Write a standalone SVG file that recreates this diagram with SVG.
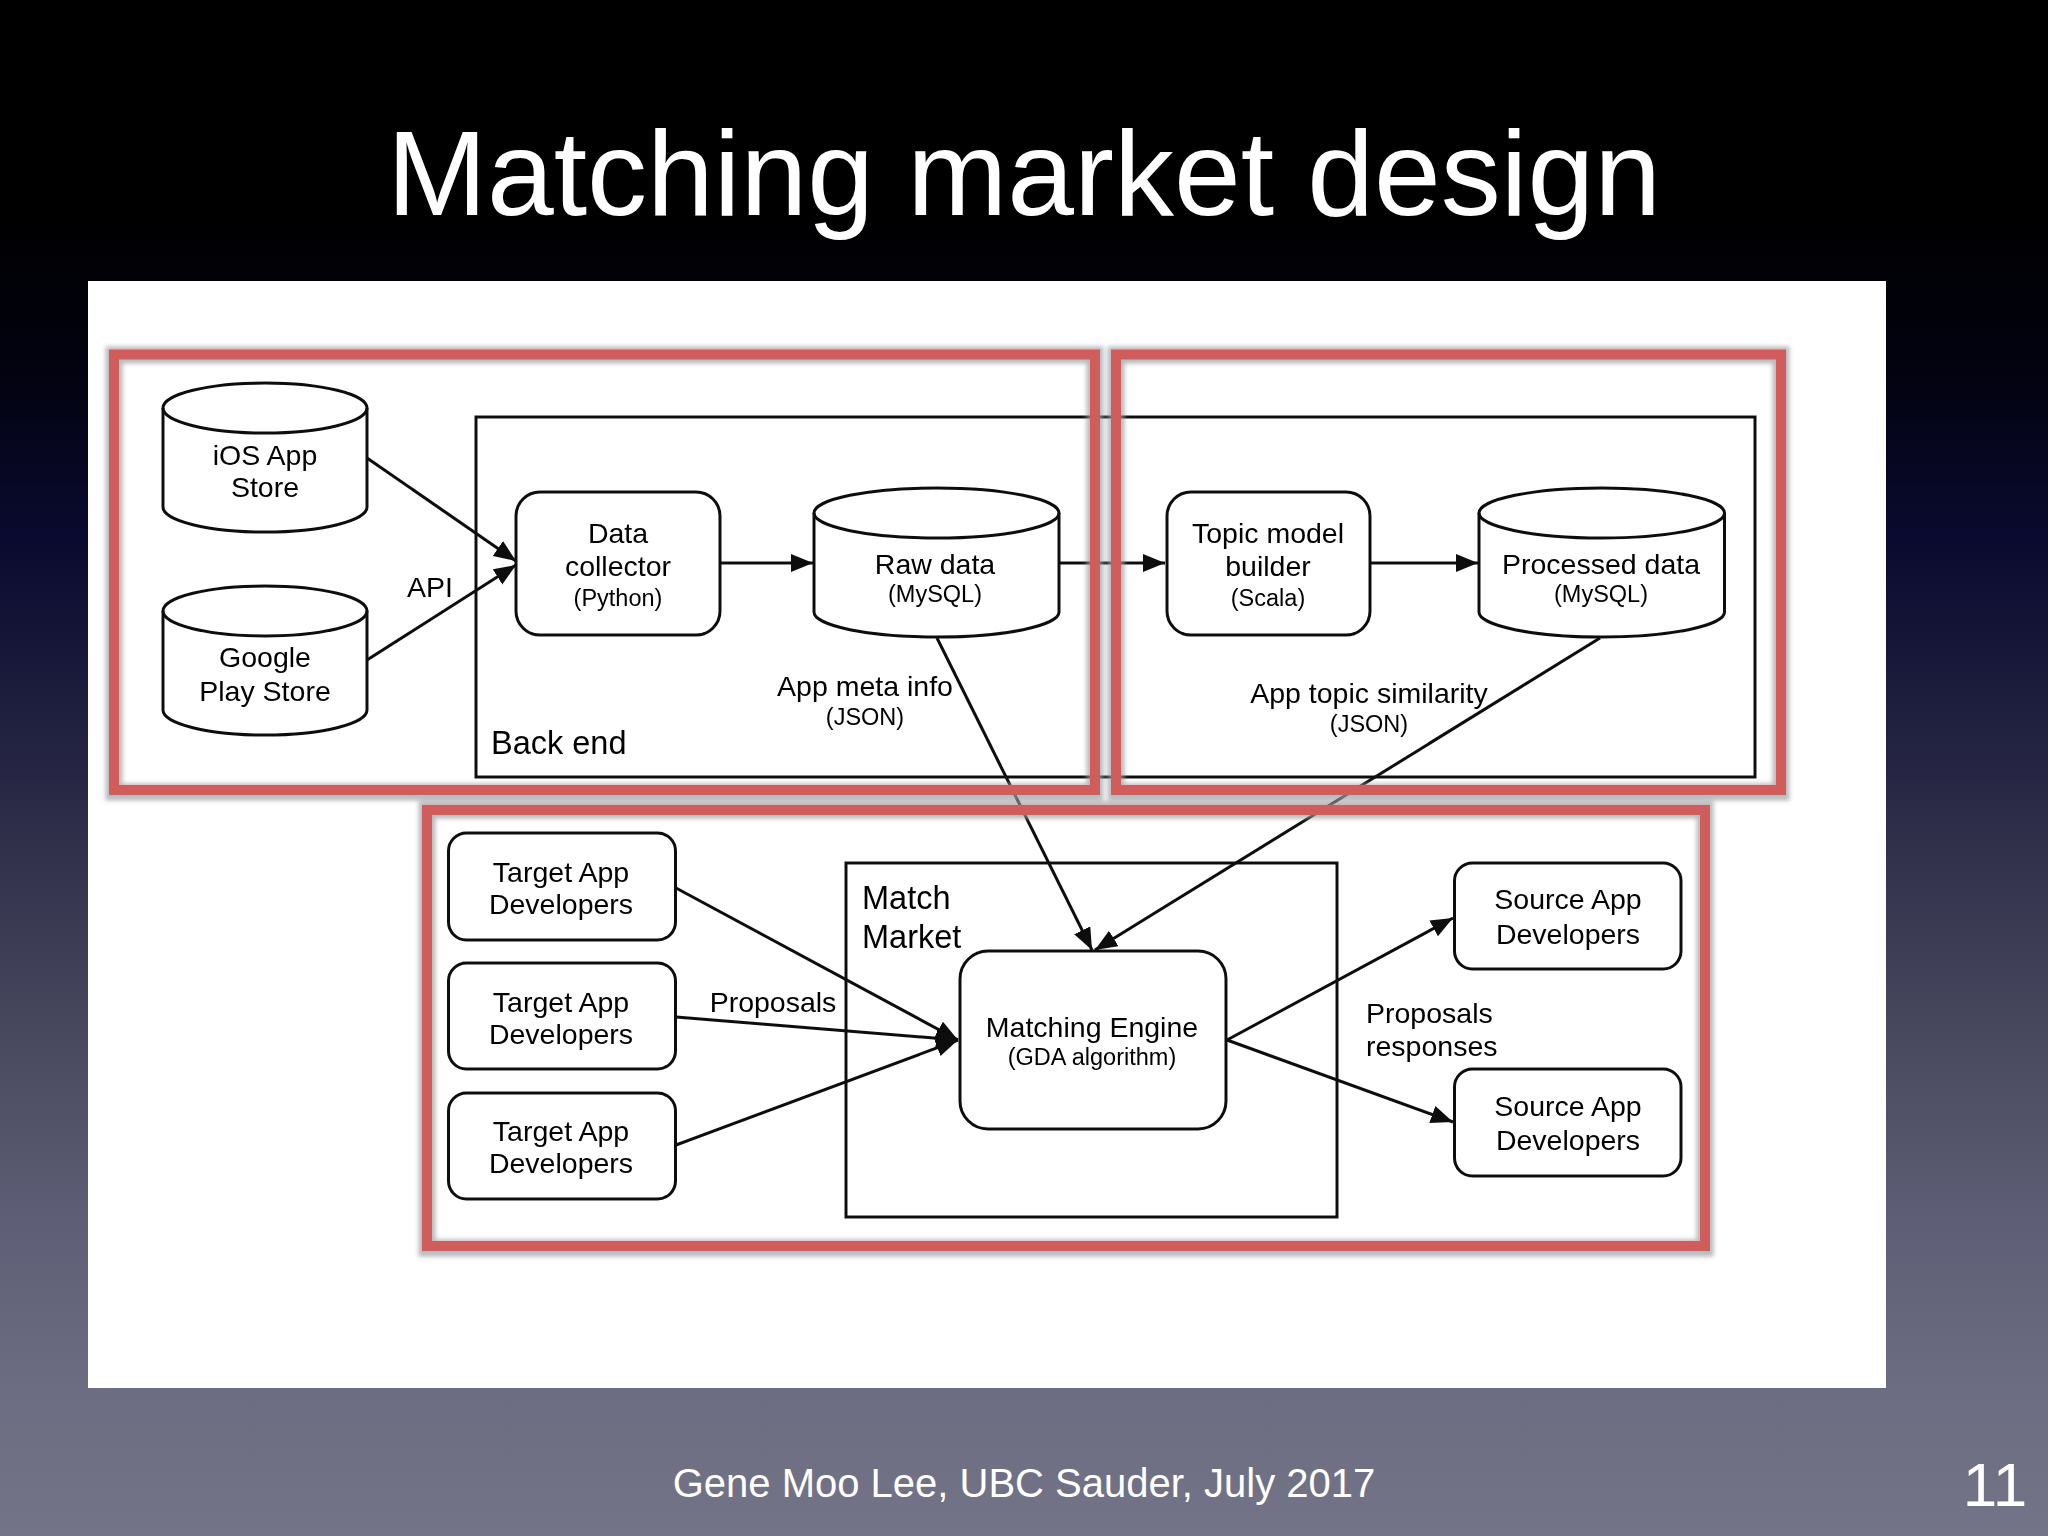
<svg xmlns="http://www.w3.org/2000/svg" width="2048" height="1536" viewBox="0 0 2048 1536">
<style>
.t{font-family:"Liberation Sans",Arial,sans-serif;fill:#000;text-anchor:middle}
.l{font-size:28.500px}.s{font-size:23.500px}.h{font-size:32.500px;text-anchor:start}
.n{fill:#fff;stroke:#111;stroke-width:3}
.f{fill:none;stroke:#111;stroke-width:3}
.c{fill:none;stroke:#111;stroke-width:3;marker-end:url(#a)}
.r{fill:none;stroke:#d15c5c;stroke-width:10}
.sh{fill:none;stroke:#9a9da3;stroke-width:17;opacity:.7}
.w{font-family:"Liberation Sans",Arial,sans-serif;fill:#fff;text-anchor:middle}
</style>
<defs>
<linearGradient id="bg" x1="0" y1="0" x2="0" y2="1">
<stop offset="0" stop-color="#000"/><stop offset=".13" stop-color="#000"/><stop offset=".24" stop-color="#020210"/><stop offset=".35" stop-color="#0a0a30"/><stop offset=".463" stop-color="#1e1e3e"/><stop offset=".574" stop-color="#35354f"/><stop offset=".685" stop-color="#4a4a60"/><stop offset=".796" stop-color="#5e5e76"/><stop offset=".906" stop-color="#6c6c82"/><stop offset="1" stop-color="#747488"/>
</linearGradient>
<filter id="b" x="-2%" y="-2%" width="104%" height="104%"><feGaussianBlur stdDeviation=".6"/></filter>
<filter id="b2" x="-5%" y="-5%" width="110%" height="110%"><feGaussianBlur stdDeviation="2"/></filter>
<marker id="a" markerUnits="userSpaceOnUse" markerWidth="24" markerHeight="20" refX="22" refY="9" orient="auto"><path d="M0 0L22 9L0 18Z" fill="#111"/></marker>
</defs>
<rect id="background" width="2048" height="1536" fill="url(#bg)"/>
<text class="w" x="1024" y="215" font-size="120">Matching market design</text>
<rect id="panel" x="88" y="281" width="1798" height="1107" fill="#fff"/>
<g id="diagram" filter="url(#b)">
<g id="containers">
<rect id="back-end" class="f" x="476" y="417" width="1279" height="360"/>
<text class="t h" x="491" y="754">Back end</text>
<rect id="match-market" class="f" x="846" y="863" width="491" height="354"/>
<text class="t h" x="862" y="909">Match</text>
<text class="t h" x="862" y="948">Market</text>
</g>
<g id="connectors">
<path class="c" d="M367 458L516 561"/>
<path class="c" d="M367 660L516 565"/>
<path class="c" d="M720 563H813"/>
<path class="c" d="M1059 563H1165"/>
<path class="c" d="M1370 563H1478"/>
<path class="c" d="M937 638L1092 950"/>
<path class="c" d="M1600 638L1095 950"/>
<path class="c" d="M676 888L958 1040"/>
<path class="c" d="M676 1017L958 1040"/>
<path class="c" d="M676 1145L958 1040"/>
<path class="c" d="M1227 1040L1453 918"/>
<path class="c" d="M1227 1040L1453 1122"/>
</g>
<g id="ios-store">
<path class="n" d="M163 408A102 25 0 0 1 367 408V507A102 25 0 0 1 163 507Z"/><path class="f" d="M163 408A102 25 0 0 0 367 408"/>
<text class="t l" x="265" y="465">iOS App</text><text class="t l" x="265" y="497">Store</text>
</g>
<g id="google-store">
<path class="n" d="M163 611A102 25 0 0 1 367 611V710A102 25 0 0 1 163 710Z"/><path class="f" d="M163 611A102 25 0 0 0 367 611"/>
<text class="t l" x="265" y="667">Google</text><text class="t l" x="265" y="701">Play Store</text>
</g>
<g id="data-collector">
<rect class="n" x="516" y="492" width="204" height="143" rx="24"/>
<text class="t l" x="618" y="543">Data</text><text class="t l" x="618" y="576">collector</text><text class="t s" x="618" y="606">(Python)</text>
</g>
<g id="raw-data">
<path class="n" d="M814 513A122.500 25 0 0 1 1059 513V612A122.500 25 0 0 1 814 612Z"/><path class="f" d="M814 513A122.500 25 0 0 0 1059 513"/>
<text class="t l" x="935" y="574">Raw data</text><text class="t s" x="935" y="602">(MySQL)</text>
</g>
<g id="topic-model">
<rect class="n" x="1167" y="492" width="203" height="143" rx="24"/>
<text class="t l" x="1268" y="543">Topic model</text><text class="t l" x="1268" y="576">builder</text><text class="t s" x="1268" y="606">(Scala)</text>
</g>
<g id="processed-data">
<path class="n" d="M1479 513A122.750 25 0 0 1 1724.500 513V612A122.750 25 0 0 1 1479 612Z"/><path class="f" d="M1479 513A122.750 25 0 0 0 1724.500 513"/>
<text class="t l" x="1601" y="574">Processed data</text><text class="t s" x="1601" y="602">(MySQL)</text>
</g>
<g id="target-1"><rect class="n" x="448.500" y="833" width="227" height="107" rx="18"/><text class="t l" x="561" y="882">Target App</text><text class="t l" x="561" y="914">Developers</text></g>
<g id="target-2"><rect class="n" x="448.500" y="963" width="227" height="106" rx="18"/><text class="t l" x="561" y="1012">Target App</text><text class="t l" x="561" y="1044">Developers</text></g>
<g id="target-3"><rect class="n" x="448.500" y="1093" width="227" height="106" rx="18"/><text class="t l" x="561" y="1141">Target App</text><text class="t l" x="561" y="1173">Developers</text></g>
<g id="matching-engine"><rect class="n" x="960" y="951" width="266" height="178" rx="28"/><text class="t l" x="1092" y="1037">Matching Engine</text><text class="t s" x="1092" y="1065">(GDA algorithm)</text></g>
<g id="source-1"><rect class="n" x="1454.500" y="863" width="226.500" height="106" rx="18"/><text class="t l" x="1568" y="909">Source App</text><text class="t l" x="1568" y="944">Developers</text></g>
<g id="source-2"><rect class="n" x="1454.500" y="1069" width="226.500" height="107" rx="18"/><text class="t l" x="1568" y="1116">Source App</text><text class="t l" x="1568" y="1150">Developers</text></g>
<g id="labels">
<text class="t l" x="430" y="597">API</text>
<text class="t l" x="865" y="696">App meta info</text><text class="t s" x="865" y="725">(JSON)</text>
<text class="t l" x="1369" y="703">App topic similarity</text><text class="t s" x="1369" y="732">(JSON)</text>
<text class="t l" x="773" y="1012">Proposals</text>
<text class="t l" x="1366" y="1023" style="text-anchor:start">Proposals</text><text class="t l" x="1366" y="1056" style="text-anchor:start">responses</text>
</g>
<g id="highlight-shadows" filter="url(#b2)">
<rect class="sh" x="114" y="355" width="981" height="437"/>
<rect class="sh" x="1116" y="355" width="665" height="437"/>
<rect class="sh" x="427" y="810" width="1278" height="438"/>
</g>
<g id="highlights">
<rect class="r" x="114" y="354.500" width="981" height="435.500"/>
<rect class="r" x="1116" y="354.500" width="665" height="435.500"/>
<rect class="r" x="427" y="810" width="1278" height="436"/>
</g>
</g>
<text class="w" x="1024" y="1497" font-size="40">Gene Moo Lee, UBC Sauder, July 2017</text>
<text class="w" x="1995" y="1506" font-size="62">11</text>
</svg>
